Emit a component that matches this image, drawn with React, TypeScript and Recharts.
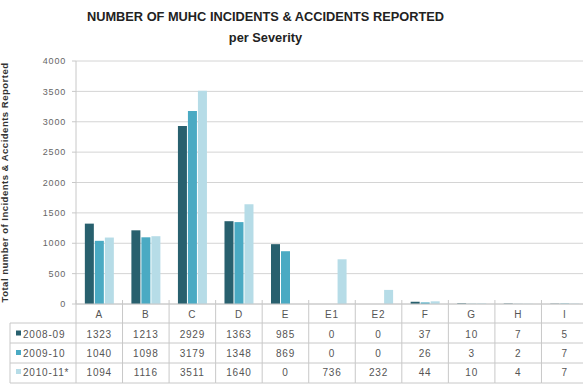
import React from 'react';
import { BarChart, Bar, XAxis, YAxis, CartesianGrid } from 'recharts';

const severities = ['A', 'B', 'C', 'D', 'E', 'E1', 'E2', 'F', 'G', 'H', 'I'];
const y2008 = [1323, 1213, 2929, 1363, 985, 0, 0, 37, 10, 7, 5];
const y2009 = [1040, 1098, 3179, 1348, 869, 0, 0, 26, 3, 2, 7];
const y2010 = [1094, 1116, 3511, 1640, 0, 736, 232, 44, 10, 4, 7];
const seriesNames = ['2008-09', '2009-10', '2010-11*'];
const yTicks = [0, 500, 1000, 1500, 2000, 2500, 3000, 3500, 4000];

const colors = ['#28606e', '#4aaac3', '#b6dce7'];
const allValues = [y2008, y2009, y2010];

const data = severities.map((s, i) => ({
  name: s,
  s0: y2008[i],
  s1: y2009[i],
  s2: y2010[i],
}));

const CHART_W = 590;
const PLOT_LEFT = 76;
const PLOT_RIGHT_MARGIN = 2;
const COL_W = (CHART_W - PLOT_LEFT - PLOT_RIGHT_MARGIN) / severities.length;
const LINE = '#c8c8c8';
const TXT = '#555';
const FONT = '"Liberation Sans", Arial, sans-serif';

// data table drawn under each category by the x axis ticks
function TableTick(props: any) {
  const { x, y, payload } = props;
  const i = payload.index;
  const left = x - COL_W / 2;
  const rowLines = [19, 39, 59, 79];
  const rowText = [33.5, 53, 72];
  return (
    <g fontFamily={FONT} letterSpacing={0.8}>
      <line x1={left} x2={left} y1={y - 4} y2={y + 79} stroke={LINE} />
      {i === severities.length - 1 && (
        <line x1={left + COL_W} x2={left + COL_W} y1={y - 4} y2={y + 79} stroke={LINE} />
      )}
      {rowLines.map((d) => (
        <line key={d} x1={left} x2={left + COL_W} y1={y + d} y2={y + d} stroke={LINE} />
      ))}
      <text x={x} y={y + 14} textAnchor="middle" fontSize={10} fill={TXT}>{payload.value}</text>
      {allValues.map((vals, r) => (
        <text key={r} x={x} y={y + rowText[r]} textAnchor="middle" fontSize={10} fill={TXT}>
          {vals[i]}
        </text>
      ))}
      {i === 0 && (
        <g>
          <line x1={10} x2={10} y1={y + 19} y2={y + 79} stroke={LINE} />
          {rowLines.map((d) => (
            <line key={'l' + d} x1={10} x2={left} y1={y + d} y2={y + d} stroke={LINE} />
          ))}
          {seriesNames.map((n, r) => (
            <g key={n}>
              <rect x={16} y={y + rowText[r] - 7} width={5} height={5} fill={colors[r]} />
              <text x={23} y={y + rowText[r]} fontSize={10} fill={TXT}>{n}</text>
            </g>
          ))}
        </g>
      )}
    </g>
  );
}

export default function App() {
  return (
    <div style={{ position: 'fixed', left: 0, top: 0, width: 583, height: 385, overflow: 'hidden', background: '#fff' }}>
      <div style={{ position: 'absolute', left: 0, width: 531, top: 6, textAlign: 'center', fontFamily: FONT, fontWeight: 'bold', fontSize: 12.8, lineHeight: '21px', color: '#222' }}>
        <div>NUMBER OF MUHC INCIDENTS &amp; ACCIDENTS REPORTED</div>
        <div>per Severity</div>
      </div>
      <BarChart
        width={CHART_W}
        height={385}
        data={data}
        margin={{ top: 61, right: PLOT_RIGHT_MARGIN, left: 20, bottom: 0 }}
        barCategoryGap="19%"
        barGap={1}
        style={{ position: 'absolute', left: 0, top: 0 }}
      >
        <CartesianGrid vertical={false} stroke="#d4d4d4" />
        <XAxis
          dataKey="name"
          height={81}
          tickLine={false}
          tickSize={0}
          tickMargin={0}
          axisLine={{ stroke: LINE }}
          interval={0}
          tick={<TableTick />}
        />
        <YAxis
          width={56}
          domain={[0, 4000]}
          ticks={yTicks}
          interval={0}
          tickSize={4}
          tickMargin={6}
          axisLine={{ stroke: LINE }}
          tickLine={{ stroke: LINE }}
          tick={{ fontSize: 9, fill: '#666', fontFamily: FONT, letterSpacing: 0.8 }}
          label={{
            value: 'Total number of Incidents & Accidents Reported',
            angle: -90,
            position: 'insideLeft',
            offset: -15,
            style: { fontSize: 9.5, fontWeight: 'bold', fill: '#333', fontFamily: FONT, textAnchor: 'middle', letterSpacing: 0.5 },
          }}
        />
        {['s0', 's1', 's2'].map((k, i) => (
          <Bar key={k} dataKey={k} name={seriesNames[i]} fill={colors[i]} isAnimationActive={false} />
        ))}
      </BarChart>
    </div>
  );
}
